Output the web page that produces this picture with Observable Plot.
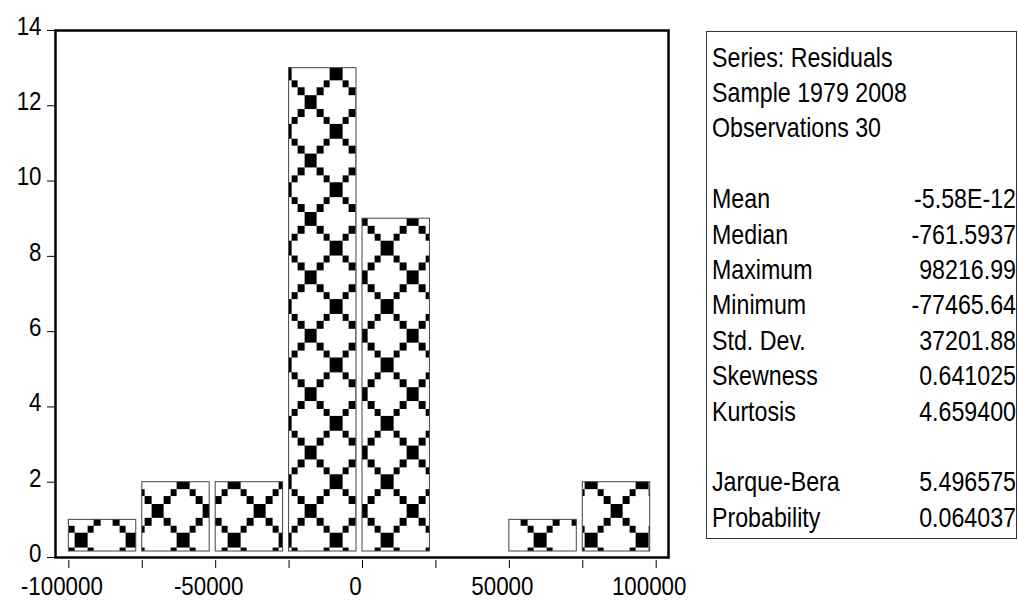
<!DOCTYPE html>
<html>
<head>
<meta charset="utf-8">
<script src="https://cdn.jsdelivr.net/npm/d3@7"></script>
<script src="https://cdn.jsdelivr.net/npm/@observablehq/plot@0.6"></script>
<style>
html, body { margin: 0; padding: 0; background: #fff; overflow: hidden; }
#chart { position: absolute; left: 0; top: 0; }
</style>
</head>
<body>
<div id="chart"></div>
<script>
// ---- Data ----
const binStarts = [-100000, -75000, -50000, -25000, 0, 25000, 50000, 75000];
const binEnds   = [-75000, -50000, -25000, 0, 25000, 50000, 75000, 100000];
const counts    = [1, 2, 2, 13, 9, 0, 1, 2];

const xTickValues  = [-100000, -75000, -50000, -25000, 0, 25000, 50000, 75000, 100000];
const xLabelValues = [-100000, -50000, 0, 50000, 100000];
const yTickValues  = [0, 2, 4, 6, 8, 10, 12, 14];

const headerLines = ["Series: Residuals", "Sample 1979 2008", "Observations 30"];
const statNames   = ["Mean", "Median", "Maximum", "Minimum", "Std. Dev.", "Skewness", "Kurtosis"];
const statValues  = ["-5.58E-12", "-761.5937", "98216.99", "-77465.64", "37201.88", "0.641025", "4.659400"];
const testNames   = ["Jarque-Bera", "Probability"];
const testValues  = ["5.496575", "0.064037"];

const FONT = '"Liberation Sans", Arial, sans-serif';
const SQUEEZE = 0.86; // the reference glyphs are horizontally condensed

const bins = binStarts.map((s, i) => ({x1: s, x2: binEnds[i], count: counts[i]}));

const plot = Plot.plot({
  width: 1019,
  height: 601,
  marginLeft: 55,
  marginRight: 351,
  marginTop: 30,
  marginBottom: 44,
  style: {fontFamily: FONT, fontSize: "26px", background: "white", color: "black"},
  x: {domain: [-104540, 104190], label: null},
  y: {domain: [0, 14], label: null},
  marks: [
    Plot.rectY(bins, {
      filter: d => d.count > 0,
      x1: "x1", x2: "x2", y: "count",
      fill: "url(#eviews-diamond)",
      stroke: "#444", strokeWidth: 1,
      insetRight: 6, insetBottom: 6
    }),
    Plot.frame({stroke: "black", strokeWidth: 2.5}),
    Plot.axisX(xTickValues, {tickSize: 8, dy: 3, text: null, stroke: "black"}),
    Plot.axisX(xLabelValues, {tickSize: 0, tickPadding: 19, dx: -7, fontSize: 26, fill: "black",
      tickFormat: d => String(d)}),
    Plot.axisY(yTickValues, {tickSize: 8, text: null, stroke: "black"}),
    Plot.axisY(yTickValues, {tickSize: 0, tickPadding: 14, dy: -4, fontSize: 26, fill: "black",
      tickFormat: d => String(d)})
  ]
});

document.getElementById("chart").appendChild(plot);
const svg = d3.select(plot);

// condense the axis tick labels horizontally around their anchor
svg.selectAll("text").each(function () {
  const t = d3.select(this);
  const tr = t.attr("transform");
  if (tr) t.attr("transform", tr + ` scale(${SQUEEZE},1)`);
  else {
    const x = +t.attr("x") || 0;
    t.attr("transform", `translate(${x},0) scale(${SQUEEZE},1) translate(${-x},0)`);
  }
});

// ---- EViews-style diamond lattice fill pattern ----
const defs = svg.insert("defs", ":first-child");
const PW = 51, PH = 58.4, bw = PW / 8, bh = PH / 8;
const pat = defs.append("pattern")
  .attr("id", "eviews-diamond")
  .attr("patternUnits", "userSpaceOnUse")
  .attr("x", 23.625).attr("y", 7.1)
  .attr("width", PW).attr("height", PH);
pat.append("rect").attr("width", PW).attr("height", PH).attr("fill", "white");
[[0, 0], [4, 4]].forEach(([c, r]) =>
  pat.append("rect").attr("x", c * bw).attr("y", r * bh)
    .attr("width", 2 * bw).attr("height", 2 * bh).attr("fill", "black")
    .attr("shape-rendering", "crispEdges"));
[[2, 2], [7, 2], [3, 3], [6, 3], [3, 6], [6, 6], [2, 7], [7, 7]].forEach(([c, r]) =>
  pat.append("rect").attr("x", c * bw).attr("y", r * bh)
    .attr("width", bw).attr("height", bh).attr("fill", "black")
    .attr("shape-rendering", "crispEdges"));

// ---- Statistics box ----
const box = svg.append("g").attr("font-family", FONT).attr("font-size", 27).attr("fill", "black");
box.append("rect")
  .attr("x", 706.5).attr("y", 31.5).attr("width", 310).attr("height", 507)
  .attr("fill", "none").attr("stroke", "#333").attr("stroke-width", 1);

const rows = [];
headerLines.forEach(t => rows.push({label: t, value: ""}));
rows.push(null);
statNames.forEach((n, i) => rows.push({label: n, value: statValues[i]}));
rows.push(null);
testNames.forEach((n, i) => rows.push({label: n, value: testValues[i]}));

const base0 = 66.7, step = 35.38;
rows.forEach((r, i) => {
  if (!r) return;
  const y = base0 + i * step;
  box.append("text").attr("text-anchor", "start")
    .attr("transform", `translate(712,${y}) scale(${SQUEEZE},1)`).text(r.label);
  if (r.value) box.append("text").attr("text-anchor", "end")
    .attr("transform", `translate(1016,${y}) scale(${SQUEEZE},1)`).text(r.value);
});
</script>
</body>
</html>
